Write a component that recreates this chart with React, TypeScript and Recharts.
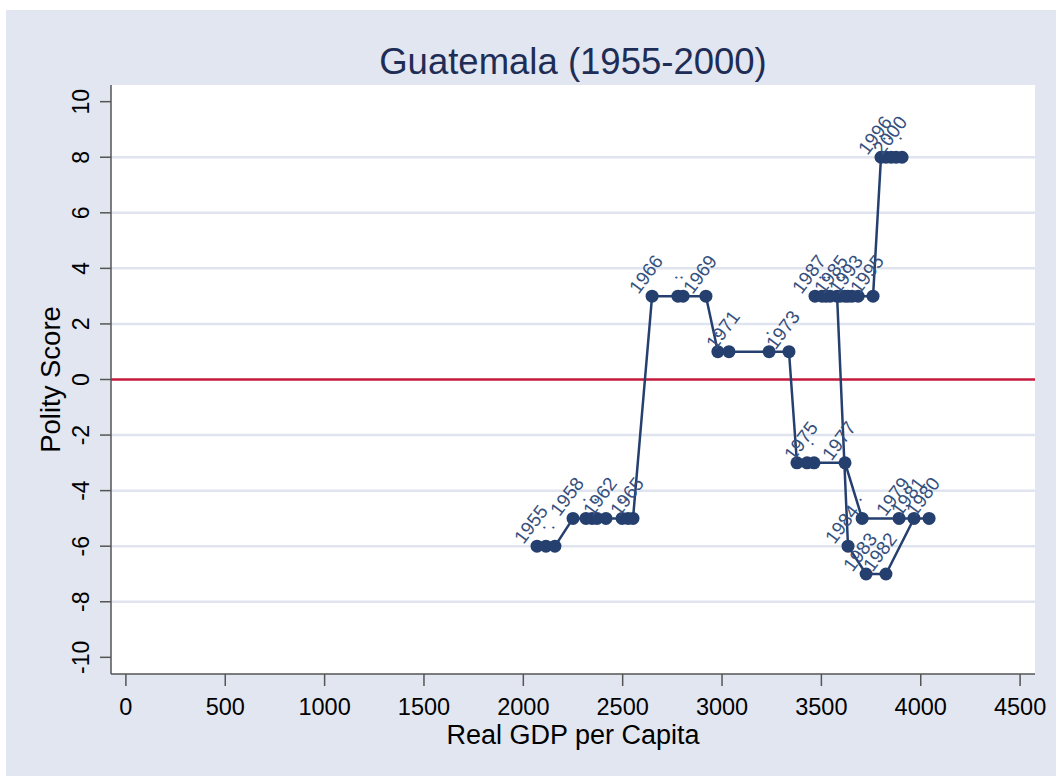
import React from 'react';
import {
  ScatterChart,
  Scatter,
  XAxis,
  YAxis,
  CartesianGrid,
  ReferenceLine,
  Label,
} from 'recharts';

const years = [
  1955, 1956, 1957, 1958, 1959, 1960, 1961, 1962, 1963, 1964, 1965, 1966, 1967, 1968, 1969, 1970,
  1971, 1972, 1973, 1974, 1975, 1976, 1977, 1978, 1979, 1980, 1981, 1982, 1983, 1984, 1985, 1986,
  1987, 1988, 1989, 1990, 1991, 1992, 1993, 1994, 1995, 1996, 1997, 1998, 1999, 2000,
];

const gdp = [
  2069, 2114, 2159, 2250, 2315, 2346, 2371, 2416, 2497, 2527, 2552, 2648, 2778, 2804, 2919, 2979,
  3035, 3237, 3337, 3377, 3428, 3463, 3619, 3705, 3891, 4042, 3966, 3825, 3725, 3634, 3579, 3523,
  3468, 3503, 3544, 3594, 3619, 3634, 3654, 3685, 3760, 3800, 3825, 3851, 3906, 3876,
];

const polity = [
  -6, -6, -6, -5, -5, -5, -5, -5, -5, -5, -5, 3, 3, 3, 3, 1,
  1, 1, 1, -3, -3, -3, -3, -5, -5, -5, -5, -7, -7, -6, 3, 3,
  3, 3, 3, 3, 3, 3, 3, 3, 3, 8, 8, 8, 8, 8,
];

const pointLabels = [
  '1955', '.', '.', '1958', '.', '.', '.', '1962', '.', '.', '1965', '1966', '.', '.', '1969', '.',
  '1971', '.', '1973', '.', '1975', '.', '1977', '.', '1979', '1980', '1981', '1982', '1983', '1984', '1985', '.',
  '1987', '.', '.', '.', '.', '.', '1993', '.', '1995', '1996', '.', '.', '.', '2000',
];

const xTicks = [0, 500, 1000, 1500, 2000, 2500, 3000, 3500, 4000, 4500];
const yTicks = [-10, -8, -6, -4, -2, 0, 2, 4, 6, 8, 10];
const gridLines = [-8, -6, -4, -2, 2, 4, 6, 8];

const data = years.map((year, i) => ({
  year,
  gdp: gdp[i],
  polity: polity[i],
  label: pointLabels[i],
}));

const NAVY = '#253f6e';
const FONT = '"Liberation Sans", Arial, sans-serif';

const YTick = (props: any) => {
  const { x, y, payload } = props;
  const cx = x - 17;
  return (
    <text
      x={cx}
      y={y}
      transform={`rotate(-90 ${cx} ${y})`}
      textAnchor="middle"
      dominantBaseline="central"
      fontSize={23}
      fill="#000"
      fontFamily={FONT}
    >
      {payload.value}
    </text>
  );
};

const Dot = (props: any) => {
  const { cx, cy } = props;
  return <circle cx={cx} cy={cy} r={6.5} fill={NAVY} />;
};

const YearText = (props: any) => {
  const { cx, cy, payload } = props;
  const tx = cx - 6;
  const ty = cy - 22;
  return (
    <text
      x={tx}
      y={ty}
      transform={`rotate(-53 ${tx} ${ty})`}
      textAnchor="middle"
      dominantBaseline="central"
      fontSize={19}
      fill="#34507e"
      fontFamily={FONT}
    >
      {payload.label}
    </text>
  );
};

export default function App() {
  return (
    <div
      style={{
        position: 'absolute',
        left: 6,
        top: 10,
        width: 1050,
        height: 766,
        background: '#e2e6f0',
        fontFamily: FONT,
      }}
    >
      <div
        style={{
          position: 'absolute',
          left: 105,
          width: 924,
          top: 31,
          textAlign: 'center',
          fontSize: 36.5,
          lineHeight: '42px',
          color: '#1e2d55',
        }}
      >
        Guatemala (1955-2000)
      </div>
      <ScatterChart
        width={1050}
        height={766}
        margin={{ top: 75, right: 21, bottom: 0, left: 0 }}
      >
        <CartesianGrid
          vertical={false}
          horizontalValues={gridLines}
          stroke="#e0e4ee"
          strokeWidth={2.5}
          fill="#ffffff"
        />
        <XAxis
          type="number"
          dataKey="gdp"
          domain={[-75, 4575]}
          ticks={xTicks}
          allowDataOverflow
          height={102}
          tickSize={12}
          tickMargin={12}
          stroke="#555"
          strokeWidth={1.5}
          tick={{ fontSize: 23.5, fill: '#000', fontFamily: FONT }}
        >
          <Label
            content={(p: any) => {
              const vb = p.viewBox;
              return (
                <text
                  x={vb.x + vb.width / 2}
                  y={vb.y + 61}
                  textAnchor="middle"
                  dominantBaseline="central"
                  fontSize={27}
                  fill="#000"
                  fontFamily={FONT}
                >
                  Real GDP per Capita
                </text>
              );
            }}
          />
        </XAxis>
        <YAxis
          type="number"
          dataKey="polity"
          domain={[-10.6, 10.6]}
          ticks={yTicks}
          allowDataOverflow
          width={105}
          tickSize={11}
          stroke="#555"
          strokeWidth={1.5}
          tick={<YTick />}
        >
          <Label
            content={(p: any) => {
              const vb = p.viewBox;
              const cx = 44;
              const cy = vb.y + vb.height / 2;
              return (
                <text
                  x={cx}
                  y={cy}
                  transform={`rotate(-90 ${cx} ${cy})`}
                  textAnchor="middle"
                  dominantBaseline="central"
                  fontSize={27.5}
                  fill="#000"
                  fontFamily={FONT}
                >
                  Polity Score
                </text>
              );
            }}
          />
        </YAxis>
        <ReferenceLine y={0} stroke="#c41a3b" strokeWidth={2.5} />
        <Scatter
          data={data}
          line={{ stroke: NAVY, strokeWidth: 2.5 }}
          lineType="joint"
          shape={<Dot />}
          isAnimationActive={false}
        />
        <Scatter data={data} shape={<YearText />} isAnimationActive={false} />
      </ScatterChart>
    </div>
  );
}
